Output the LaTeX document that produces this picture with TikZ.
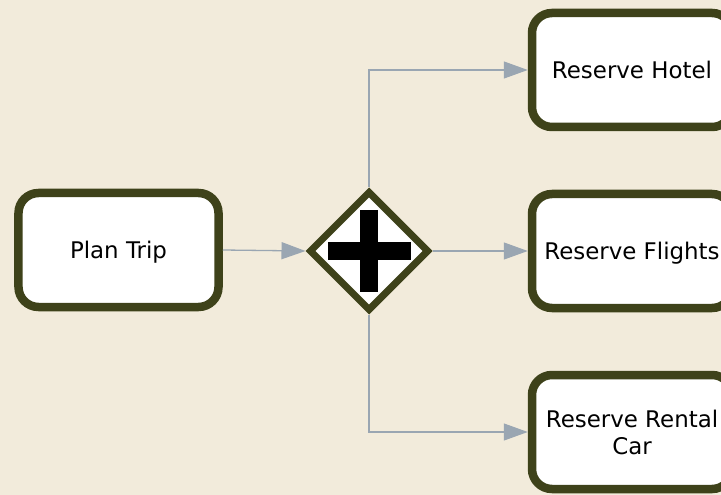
\documentclass[tikz,border=0pt]{standalone}
\usepackage{fontspec}
\setmainfont{DejaVu Sans}
\usepackage{tikz}
\usetikzlibrary{positioning,arrows.meta,shapes.geometric}

\definecolor{parch}{RGB}{242,235,219}
\definecolor{olive}{RGB}{62,66,26}
\definecolor{flow}{RGB}{154,166,178}

\begin{document}
\begin{tikzpicture}[x=1bp, y=-1bp,
  tsk/.style={draw=olive, line width=8.5bp, fill=white, rounded corners=20bp,
              align=center, minimum width=200bp, minimum height=114bp,
              text depth=0pt, font=\fontsize{23}{27}\selectfont},
  gwy/.style={diamond, draw=olive, line width=7bp, fill=white, inner sep=0pt,
              minimum width=120bp, minimum height=120bp},
  arr/.style={-{Triangle[length=24bp, width=17bp]}, draw=flow, line width=1.3bp}]
\useasboundingbox (0,0) rectangle (721,495);
\clip (0,0) rectangle (721,495);
\fill[parch] (0,0) rectangle (721,495);
% tasks and gateway
\node[tsk] (plan)    at (118.5,250) {Plan Trip};
\node[gwy] (gw)      at (369,251)   {};
\node[tsk] (hotel)   at (632,70)    {Reserve Hotel};
\node[tsk] (flights) at (632,251)   {Reserve Flights};
\node[tsk] (car)     at (632,432)   {Reserve Rental\\ Car};
\fill (gw.center) ++(-41.5,-9) rectangle ++(83,18);
\fill (gw.center) ++(-9,-40.5) rectangle ++(18,81);
% flows
\draw[arr] (plan.east) -- (gw.west);
\draw[arr] (gw.north) |- (hotel.west);
\draw[arr] (gw.east) -- (flights.west);
\draw[arr] (gw.south) |- (car.west);
\end{tikzpicture}
\end{document}
